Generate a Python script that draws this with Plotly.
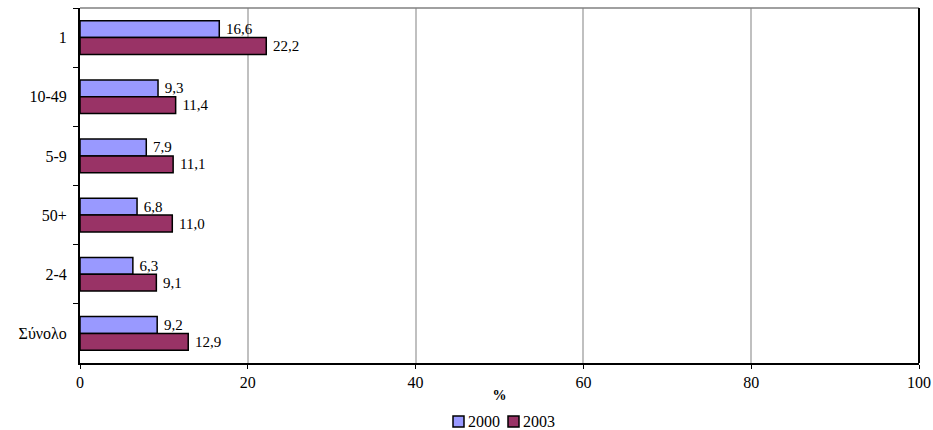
import plotly.graph_objects as go

categories = ["1", "10-49", "5-9", "50+", "2-4", "Σύνολο"]
values_2000 = [16.6, 9.3, 7.9, 6.8, 6.3, 9.2]
values_2003 = [22.2, 11.4, 11.1, 11.0, 9.1, 12.9]
series_names = ["2000", "2003"]
series_colors = ["#9999FF", "#993366"]
x_ticks = [0, 20, 40, 60, 80, 100]

FONT = "Liberation Serif"
FS = 16
FS_VAL = 15

def fmt(v):
    return "\u00a0" + f"{v:.1f}".replace(".", ",")

fig = go.Figure()
for name, vals, col in zip(series_names, [values_2000, values_2003], series_colors):
    fig.add_trace(go.Bar(
        y=categories, x=vals, name=name, orientation="h",
        marker=dict(color=col, line=dict(color="black", width=1.5)),
        text=[fmt(v) for v in vals], textposition="outside",
        textfont=dict(family=FONT, size=FS_VAL, color="black"), cliponaxis=False,
        showlegend=False, hoverinfo="skip",
    ))

W, H = 933, 430
ML, MR, MT, MB = 80, 14, 8, 67
pw, ph = W - ML - MR, H - MT - MB

def px_to_paper_x(px):
    return (px - ML) / pw

def px_to_paper_y(py):
    return (H - MB - py) / ph

# custom legend (squares + real text)
shapes = [
    dict(type="line", xref="paper", yref="paper", x0=0, x1=1, y0=1, y1=1,
         line=dict(color="#808080", width=1.5)),
    dict(type="line", xref="paper", yref="paper", x0=1, x1=1, y0=0, y1=1,
         line=dict(color="black", width=2)),
]
annotations = []
legend_x = [453, 508]
ly0, ly1 = 416, 427
for lx, name, col in zip(legend_x, series_names, series_colors):
    shapes.append(dict(type="rect", xref="paper", yref="paper",
                       x0=px_to_paper_x(lx), x1=px_to_paper_x(lx + 11),
                       y0=px_to_paper_y(ly1), y1=px_to_paper_y(ly0),
                       fillcolor=col, line=dict(color="black", width=1.5)))
    annotations.append(dict(xref="paper", yref="paper", x=px_to_paper_x(lx + 13),
                            y=px_to_paper_y(421.5), xanchor="left", yanchor="middle",
                            text=name, showarrow=False,
                            font=dict(family=FONT, size=FS, color="black")))

fig.update_layout(
    template="none",
    width=W, height=H,
    margin=dict(l=ML, r=MR, t=MT, b=MB, autoexpand=False),
    barmode="group", bargap=0.43, bargroupgap=0,
    plot_bgcolor="white", paper_bgcolor="white",
    font=dict(family=FONT, size=FS, color="black"),
    showlegend=False,
    xaxis=dict(range=[0, 100], tickvals=x_ticks, showgrid=True, gridcolor="#C0C0C0", gridwidth=1.5,
               showline=True, linecolor="black", linewidth=2, ticks="outside", ticklen=4,
               tickcolor="black", zeroline=False, automargin=False,
               tickfont=dict(family=FONT, size=FS, color="black"),
               title=dict(text="<b>%</b>", font=dict(family=FONT, size=14, color="black"), standoff=0)),
    yaxis=dict(autorange="reversed", showline=True, linecolor="black", linewidth=2,
               ticks="outside", ticklen=5, tickcolor="black", tickson="boundaries",
               showgrid=False, ticksuffix="\u00a0\u00a0", automargin=False, zeroline=False,
               tickfont=dict(family=FONT, size=FS, color="black")),
    shapes=shapes,
    annotations=annotations,
)

fig.write_html("out.html", config={"displayModeBar": False},
               post_script="document.body.style.margin='0';")
